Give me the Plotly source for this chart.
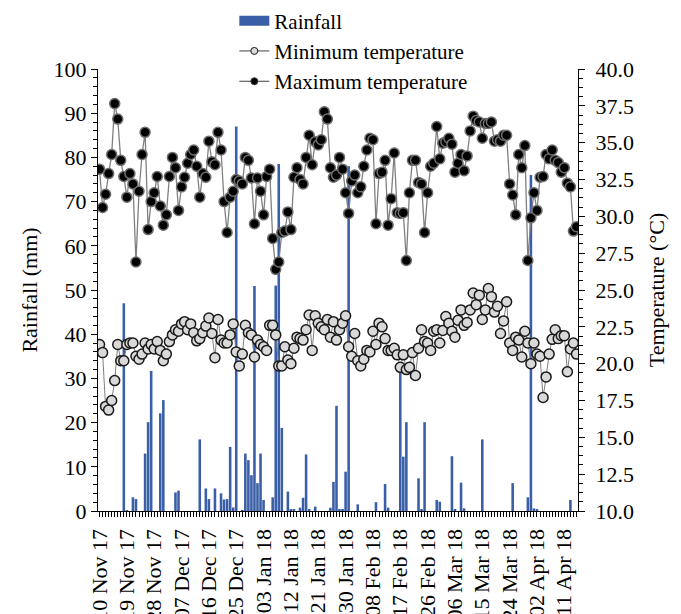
import plotly.graph_objects as go

tick_labels = ["10 Nov 17", "19 Nov 17", "28 Nov 17", "07 Dec 17", "16 Dec 17", "25 Dec 17",
               "03 Jan 18", "12 Jan 18", "21 Jan 18", "30 Jan 18", "08 Feb 18", "17 Feb 18",
               "26 Feb 18", "06 Mar 18", "15 Mar 18", "24 Mar 18", "02 Apr 18", "11 Apr 18"]

max_temp = [
    33.2, 30.6, 31.5, 32.9, 34.2, 37.65, 36.6, 33.8, 32.7, 31.3,
    32.9, 32.2, 26.9, 31.7, 34.2, 35.7, 29.1, 31.0, 31.6, 32.7,
    30.7, 29.4, 30.1, 32.7, 34.0, 33.3, 30.4, 32.0, 32.65, 33.6,
    34.2, 34.5, 33.4, 31.3, 32.9, 32.65, 35.1, 33.7, 33.5, 35.7,
    34.5, 31.0, 28.9, 31.3, 31.7, 32.5, 32.4, 32.2, 34.0, 33.8,
    32.6, 29.5, 32.6, 31.7, 30.1, 32.7, 33.2, 28.5, 26.4, 26.9,
    28.9, 29.0, 30.3,
    29.1, 32.65, 33.3, 32.5, 32.2, 34.0, 35.5, 33.5, 35.07, 34.85,
    35.2, 37.1, 36.6, 33.3, 32.65, 32.8, 34.0, 33.2, 31.6, 30.2,
    32.4, 32.8, 31.6, 32.0, 33.4, 34.5, 35.3, 35.2, 29.5, 32.9,
    33.0, 33.8, 29.4, 31.2, 34.3, 30.25, 30.2, 30.25, 27.0, 31.6,
    33.8, 33.8, 32.3, 32.2, 28.9, 31.6, 33.4, 33.6, 36.1, 33.9,
    34.96, 35.07, 35.3, 34.9, 33.0, 33.6, 34.2, 33.1, 34.1, 35.8,
    36.8, 36.5,
    36.4, 35.3, 36.3, 36.3, 36.4, 35.1, 35.2, 35.1, 35.5, 35.5,
    32.2, 31.45, 30.1, 34.2, 33.3, 34.8, 27.0, 29.9, 31.6, 30.4,
    32.65, 32.7, 34.2, 33.9, 34.5, 33.8, 33.65, 33.0, 33.3, 32.25,
    32.0, 29.0, 29.3,
]

min_temp = [
    21.3, 20.75, 17.1, 16.85, 17.5, 18.85, 21.3, 20.2, 20.2, 21.3,
    21.4, 21.4, 20.5, 20.3, 20.65, 21.4, 21.0, 21.3, 21.0, 21.5,
    20.9, 20.2, 20.65, 21.5, 21.95, 22.3, 22.2, 22.7, 22.85, 22.3,
    22.7, 22.1, 21.55, 21.7, 22.1, 22.55, 23.1, 22.05, 20.4, 23.0,
    21.6, 21.4, 21.4, 21.95, 22.7, 20.8, 19.85, 20.65, 22.6, 22.1,
    21.95, 20.45, 21.6, 21.3, 21.15, 20.9, 22.6, 22.6, 21.95, 19.85,
    19.85, 21.15, 20.25,
    20.0, 21.05, 21.8, 21.7, 21.6, 22.3, 23.3, 20.9, 23.25, 22.75,
    22.5, 22.3, 23.0, 21.8, 22.85, 21.6, 22.3, 22.75, 23.25, 21.15,
    20.5, 22.05, 20.2, 19.85, 20.3, 20.9, 20.8, 22.2, 21.3, 22.75,
    22.5, 21.7, 20.9, 20.9, 21.05, 20.6, 19.75, 20.6, 19.6, 19.75,
    20.75, 19.2, 21.05, 22.3, 21.5, 21.4, 20.9, 22.2, 22.3, 21.4,
    22.25, 23.2, 22.75, 22.2, 21.8, 22.95, 23.65, 22.6, 22.8, 23.65,
    24.8, 24.0, 24.65,
    23.0, 23.65, 25.1, 24.55, 23.5, 23.9, 22.05, 22.9, 24.2, 21.4,
    20.9, 21.8, 21.6, 20.45, 22.2, 21.4, 20.0, 21.4, 20.65, 20.5,
    17.7, 19.1, 20.65, 21.65, 22.3, 21.7, 21.9, 21.9, 19.45, 21.0,
    21.4, 20.65,
]

rainfall = [
    0, 0, 0, 0, 0, 0, 0, 0, 47.0, 0.2,
    0, 3.1, 2.7, 0, 0, 13.0, 20.1, 31.7, 0, 0,
    22.1, 25.1, 0, 0, 0, 4.2, 4.6, 0, 0, 0,
    0, 0, 0, 16.2, 0, 5.1, 2.7, 0, 5.1, 0,
    4.0, 2.6, 2.7, 14.5, 0.8, 87.0, 0, 0.2, 13.0, 11.5,
    8.1, 50.9, 6.3, 13.0, 2.5, 0, 0, 3.1, 51.0, 78.5,
    18.8, 0, 4.4, 0.3, 0.3, 0, 0.75, 3.0, 12.8, 0.3,
    0, 1.0, 0, 0, 0, 0, 0.75, 6.6, 23.8, 0.3,
    0.3, 8.9, 78.0, 0, 0, 1.5, 0, 0, 0, 0,
    0, 2.0, 0, 0, 6.1, 0.75, 0, 0, 0, 32.0,
    12.3, 20.1, 0, 0, 0, 7.4, 0.3, 20.1, 0, 0,
    0, 2.5, 2.1, 0, 0, 0, 12.4, 0.3, 0, 6.4,
    0.6, 0, 0, 0, 0, 0, 16.2, 0, 0, 0,
    0, 0, 0, 0, 0, 0, 6.3, 0, 0, 0,
    0, 3.1, 76.0, 0.6, 0.3, 0, 0, 0, 0, 0,
    0, 0, 0, 0, 0, 2.5, 0, 0,
]

n = len(rainfall)
days = list(range(n))
tick_pos = [9 * k for k in range(len(tick_labels))]

FONT = "Liberation Serif"
BLUE = "#3A5FA6"

fig = go.Figure()
fig.add_trace(go.Bar(x=days, y=rainfall, marker=dict(color=BLUE, line=dict(width=0)),
                     showlegend=False, yaxis="y"))
fig.add_trace(go.Scatter(x=days, y=min_temp[:n], mode="lines+markers", yaxis="y2", showlegend=False,
                         line=dict(color="#808080", width=1),
                         marker=dict(size=10, color="#D9D9D9", line=dict(color="#1a1a1a", width=1.5))))
fig.add_trace(go.Scatter(x=days, y=max_temp[:n], mode="lines+markers", yaxis="y2", showlegend=False,
                         line=dict(color="#808080", width=1.3),
                         marker=dict(size=10, color="#000000", line=dict(color="#6e6e6e", width=1.5))))

# legend entries
fig.add_trace(go.Scatter(x=[None], y=[None], mode="lines", name="Rainfall", yaxis="y2",
                         line=dict(color=BLUE, width=10)))
fig.add_trace(go.Scatter(x=[None], y=[None], mode="lines+markers", name="Minimum temperature", yaxis="y2",
                         line=dict(color="#404040", width=1),
                         marker=dict(size=7, color="#D9D9D9", line=dict(color="#1a1a1a", width=1))))
fig.add_trace(go.Scatter(x=[None], y=[None], mode="lines+markers", name="Maximum temperature", yaxis="y2",
                         line=dict(color="#404040", width=1),
                         marker=dict(size=7, color="#000000", line=dict(color="#404040", width=1))))

# the page body has an 8 px margin, so the figure is 8 px smaller and shifted
fig.update_layout(
    width=673, height=606,
    margin=dict(l=90, r=103, t=61, b=103, autoexpand=False),
    paper_bgcolor="white", plot_bgcolor="white",
    font=dict(family=FONT, color="black", size=22),
    bargap=0.15,
    legend=dict(x=0.284, y=1.155, xanchor="left", yanchor="top", font=dict(size=21, family=FONT),
                bgcolor="rgba(0,0,0,0)", tracegroupgap=0, itemwidth=30, traceorder="normal"),
    xaxis=dict(range=[-0.5, n - 0.5], tickvals=tick_pos, ticktext=tick_labels, tickangle=-90,
               showline=True, linecolor="black", linewidth=1.3, ticks="outside", ticklen=5,
               tickcolor="black", showgrid=False, zeroline=False, automargin=False,
               tickfont=dict(size=22, family=FONT), ticklabelstandoff=3,
               minor=dict(ticks="outside", ticklen=5, tick0=0, dtick=1, tickcolor="black", showgrid=False)),
    yaxis=dict(range=[0, 100], dtick=10, showline=True, linecolor="black", linewidth=1.3,
               ticks="outside", ticklen=6, tickcolor="black", showgrid=False, zeroline=False,
               tickfont=dict(size=22, family=FONT), automargin=False,
               title=dict(text="Rainfall (mm)", font=dict(size=22, family=FONT), standoff=9),
               minor=dict(ticks="outside", ticklen=4, dtick=2, tickcolor="black", showgrid=False)),
    yaxis2=dict(range=[10, 40], dtick=2.5, tickformat=".1f", overlaying="y", side="right",
                showline=True, linecolor="black", linewidth=1.3, ticks="outside", ticklen=6,
                tickcolor="black", showgrid=False, zeroline=False, automargin=False,
                tickfont=dict(size=22, family=FONT), ticklabelstandoff=6,
                title=dict(text="Temperature (°C)", font=dict(size=22, family=FONT)),
                minor=dict(ticks="outside", ticklen=4, dtick=0.625, tickcolor="black", showgrid=False)),
)

fig.write_html("out.html")
